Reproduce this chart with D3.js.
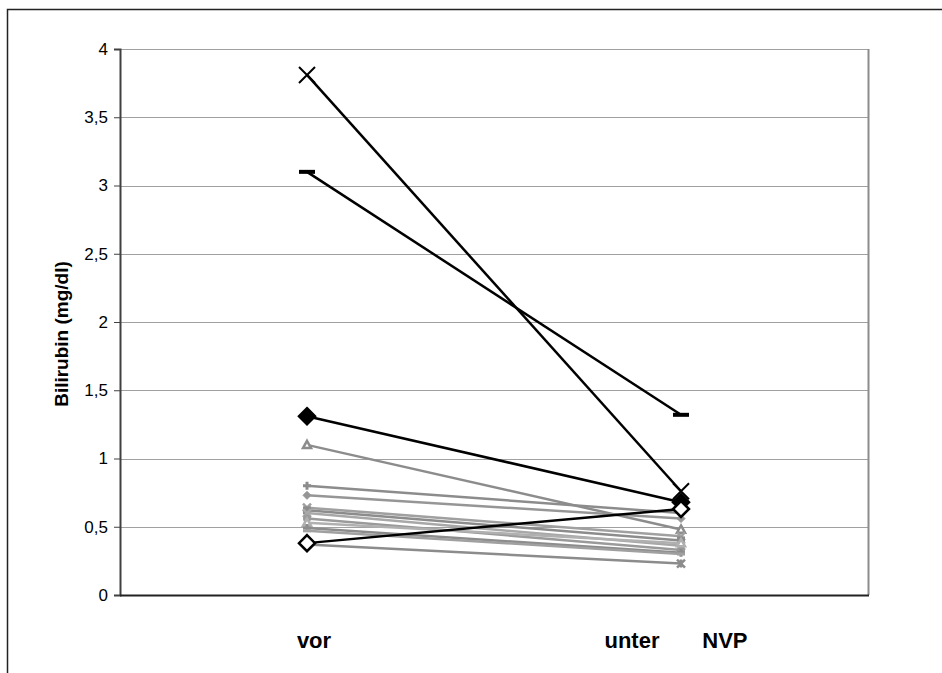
<!DOCTYPE html>
<html>
<head>
<meta charset="utf-8">
<script src="https://cdn.jsdelivr.net/npm/d3@7"></script>
<style>
  body { margin: 0; background: #fff; }
  svg { display: block; font-family: "Liberation Sans", Arial, sans-serif; }
</style>
</head>
<body>
<svg id="chart" width="942" height="673"></svg>
<script>
// categories on the x axis
const categories = ["vor", "unter       NVP"];
const yTicks = [0, 0.5, 1, 1.5, 2, 2.5, 3, 3.5, 4];

// black series (vor, unter NVP)
const blackNames = ["x", "dash", "diamondFilled", "diamondOpen"];
const blackValues = [
  [3.81, 0.76],
  [3.10, 1.32],
  [1.31, 0.68],
  [0.38, 0.63]
];

// grey series (vor, unter NVP)
const greyMarkers = ["triangle", "plus", "smallDiamond", "x", "square", "x", "circle", "triangle", "plus", "dash", "asterisk"];
const greyColors = ["#8c8c8c", "#8c8c8c", "#969696", "#a0a0a0", "#8c8c8c", "#a8a8a8", "#9a9a9a", "#b0b0b0", "#8c8c8c", "#a0a0a0", "#8c8c8c"];
const greyValues = [
  [1.10, 0.48],
  [0.80, 0.60],
  [0.73, 0.56],
  [0.64, 0.43],
  [0.62, 0.40],
  [0.60, 0.36],
  [0.56, 0.33],
  [0.53, 0.38],
  [0.49, 0.31],
  [0.47, 0.30],
  [0.37, 0.23]
];

const svg = d3.select("#chart");
const margin = { left: 120, top: 49, right: 868, bottom: 595 };

// chart area border
svg.append("rect")
  .attr("x", 7.5).attr("y", 9.5)
  .attr("width", 1000).attr("height", 1000)
  .attr("fill", "#fff").attr("stroke", "#222").attr("stroke-width", 1.5);

const x = d3.scaleBand().domain(categories).range([margin.left, margin.right]);
const y = d3.scaleLinear().domain([0, 4]).range([margin.bottom, margin.top]);
const cx = c => x(c) + x.bandwidth() / 2;

// gridlines
svg.append("g").selectAll("line")
  .data(yTicks.filter(d => d > 0))
  .join("line")
  .attr("x1", margin.left).attr("x2", margin.right)
  .attr("y1", d => Math.round(y(d)) + 0.5).attr("y2", d => Math.round(y(d)) + 0.5)
  .attr("stroke", "#a0a0a0").attr("stroke-width", 1);

// plot area right border
svg.append("line")
  .attr("x1", margin.right + 0.5).attr("x2", margin.right + 0.5)
  .attr("y1", margin.top).attr("y2", margin.bottom)
  .attr("stroke", "#8c8c8c").attr("stroke-width", 2);

// y axis
const yAxis = d3.axisLeft(y)
  .tickValues(yTicks)
  .tickSize(6)
  .tickPadding(6)
  .tickFormat(d => String(d).replace(".", ","));
const gy = svg.append("g")
  .attr("transform", `translate(${margin.left},0)`)
  .call(yAxis);
gy.select(".domain").attr("stroke", "#404040").attr("stroke-width", 2);
gy.selectAll(".tick line").attr("stroke", "#404040");
gy.selectAll(".tick text")
  .attr("font-size", 17).attr("fill", "#000")
  .attr("font-family", "Liberation Sans, Arial, sans-serif");

// x axis line
svg.append("line")
  .attr("x1", margin.left).attr("x2", margin.right + 1)
  .attr("y1", margin.bottom + 0.5).attr("y2", margin.bottom + 0.5)
  .attr("stroke", "#222").attr("stroke-width", 2);

// category labels
svg.append("g").selectAll("text")
  .data(categories)
  .join("text")
  .attr("x", (d, i) => cx(d) + (i === 0 ? 7 : -5))
  .attr("y", 648)
  .attr("text-anchor", "middle")
  .attr("font-size", 22).attr("font-weight", "bold")
  .style("white-space", "pre")
  .attr("xml:space", "preserve")
  .text(d => d);

// y axis title
svg.append("text")
  .attr("transform", "translate(68," + ((margin.top + margin.bottom) / 2 + 12) + ") rotate(-90)")
  .attr("text-anchor", "middle")
  .attr("font-size", 19).attr("font-weight", "bold")
  .text("Bilirubin (mg/dl)");

const line = d3.line().x((d, i) => cx(categories[i])).y(d => y(d));

function marker(g, type, px, py, color, size) {
  const s = size / 2;
  if (type === "x") {
    g.append("path")
      .attr("d", `M${px - s},${py - s}L${px + s},${py + s}M${px - s},${py + s}L${px + s},${py - s}`)
      .attr("stroke", color).attr("stroke-width", size > 10 ? 2 : 2.5).attr("fill", "none");
  } else if (type === "plus") {
    g.append("path")
      .attr("d", `M${px - s},${py}L${px + s},${py}M${px},${py - s}L${px},${py + s}`)
      .attr("stroke", color).attr("stroke-width", 3).attr("fill", "none");
  } else if (type === "asterisk") {
    g.append("path")
      .attr("d", `M${px - s},${py - s}L${px + s},${py + s}M${px - s},${py + s}L${px + s},${py - s}M${px},${py - s}L${px},${py + s}`)
      .attr("stroke", color).attr("stroke-width", 2.5).attr("fill", "none");
  } else if (type === "dash") {
    const h = size > 10 ? 4 : 3;
    g.append("rect")
      .attr("x", px - s).attr("y", py - h / 2)
      .attr("width", size).attr("height", h)
      .attr("fill", color);
  } else if (type === "diamondFilled" || type === "diamondOpen" || type === "smallDiamond") {
    g.append("path")
      .attr("d", `M${px},${py - s}L${px + s},${py}L${px},${py + s}L${px - s},${py}Z`)
      .attr("fill", type === "diamondOpen" ? "#fff" : color)
      .attr("stroke", color).attr("stroke-width", type === "smallDiamond" ? 1 : 2.5);
  } else if (type === "triangle") {
    g.append("path")
      .attr("d", `M${px},${py - s}L${px + s},${py + s * 0.8}L${px - s},${py + s * 0.8}Z`)
      .attr("fill", "#fff").attr("stroke", color).attr("stroke-width", 2.5);
  } else if (type === "square") {
    g.append("rect")
      .attr("x", px - s).attr("y", py - s).attr("width", size).attr("height", size)
      .attr("fill", color);
  } else if (type === "circle") {
    g.append("circle")
      .attr("cx", px).attr("cy", py).attr("r", s)
      .attr("fill", color);
  }
}

// grey series
const greyG = svg.append("g");
greyValues.forEach((vals, i) => {
  const g = greyG.append("g");
  g.append("path")
    .attr("d", line(vals))
    .attr("fill", "none")
    .attr("stroke", greyColors[i]).attr("stroke-width", 2.5);
  vals.forEach((v, j) => marker(g, greyMarkers[i], cx(categories[j]), y(v), greyColors[i], 8));
});

// black series
const blackG = svg.append("g");
blackValues.forEach((vals, i) => {
  const g = blackG.append("g");
  g.append("path")
    .attr("d", line(vals))
    .attr("fill", "none")
    .attr("stroke", "#000").attr("stroke-width", 2.5);
  vals.forEach((v, j) => marker(g, blackNames[i], cx(categories[j]), y(v), "#000", 16));
});
</script>
</body>
</html>
